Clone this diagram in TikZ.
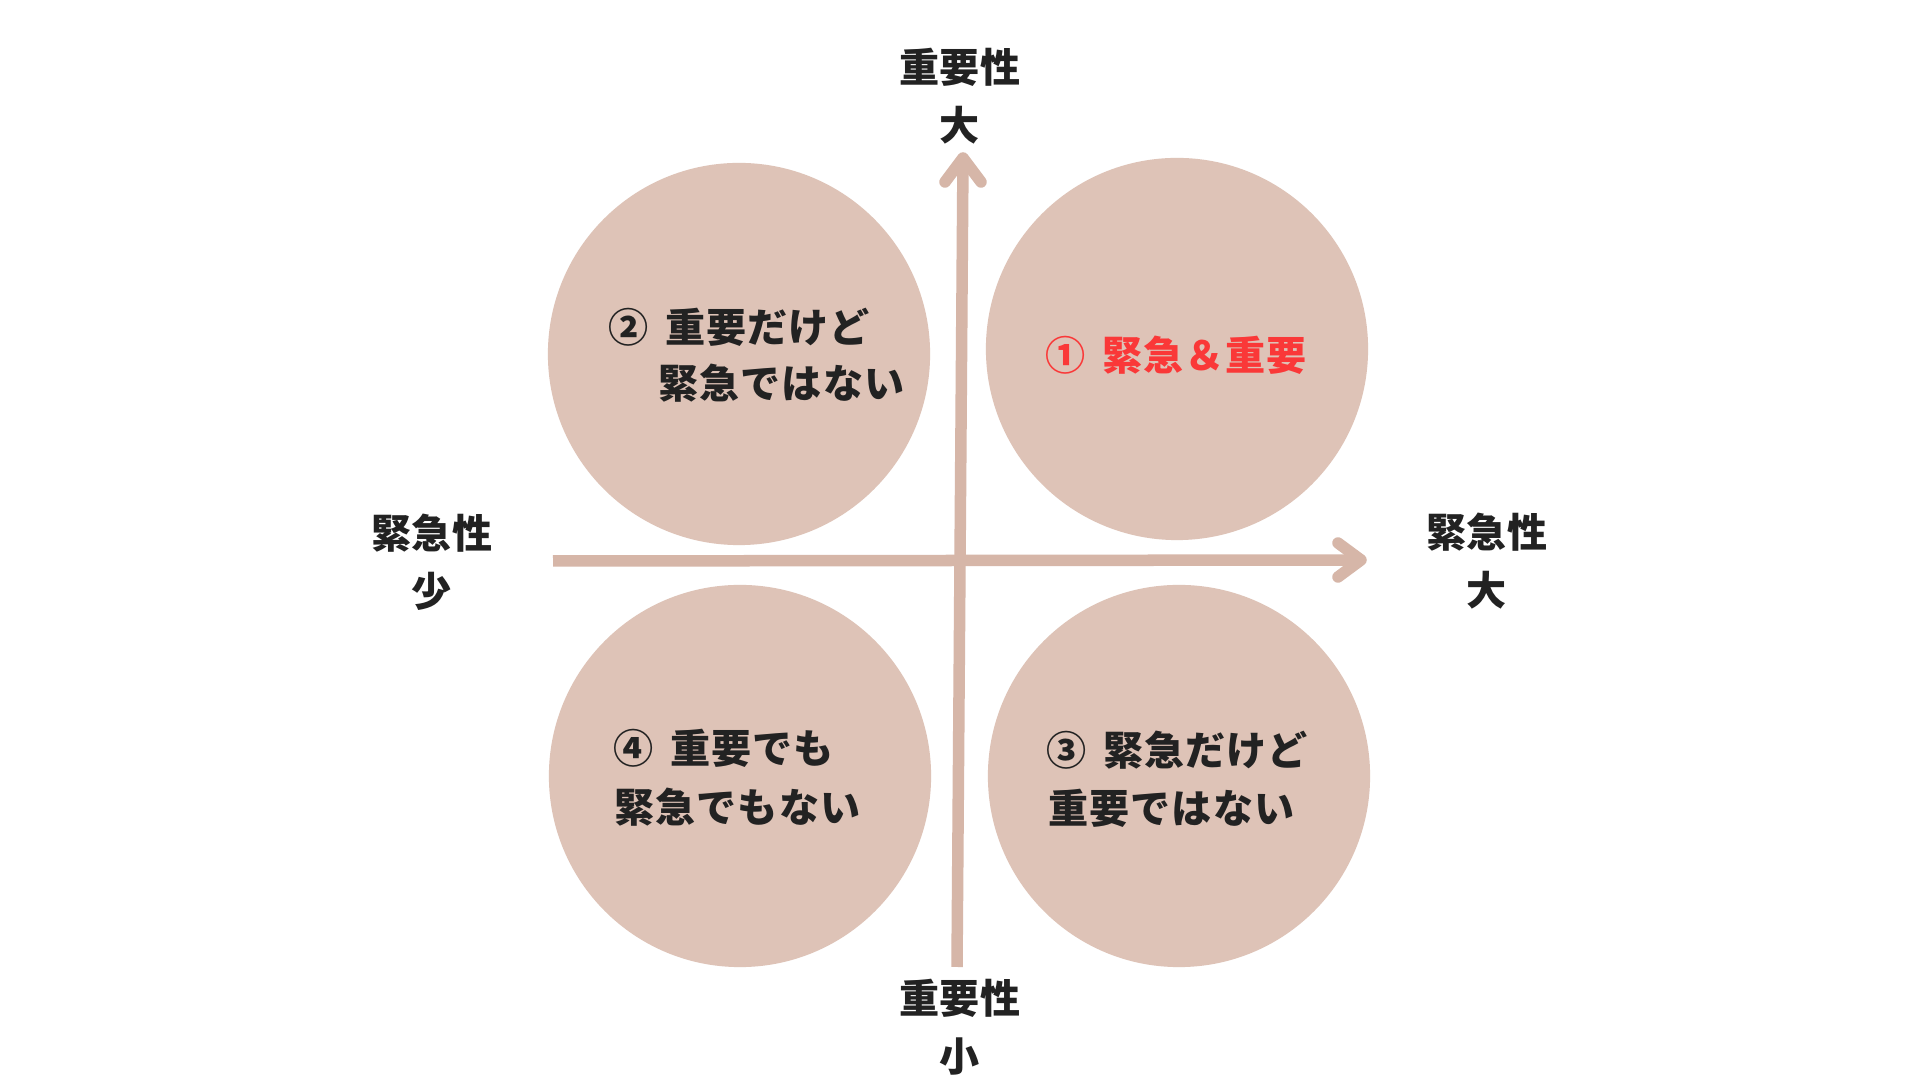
\documentclass[tikz,border=0pt]{standalone}
\usepackage{fontspec}
\setmainfont{Noto Sans CJK JP}
\newfontfamily\cfont{Noto Sans CJK JP}[LetterSpace=2.5,WordSpace=1.6]
\definecolor{disc}{RGB}{222,195,183}
\definecolor{axiscol}{RGB}{214,182,168}
\definecolor{ink}{RGB}{34,34,34}
\definecolor{alert}{RGB}{250,56,56}
\tikzset{
  disc/.style={circle,fill=disc,minimum size=3.82cm,inner sep=0pt},
  shaft/.style={draw=axiscol,line width=0.115cm,line cap=butt},
  head/.style={draw=axiscol,line width=0.115cm,line cap=round,line join=round},
  lbl/.style={text=ink,font=\fontsize{11.4pt}{16.5pt}\selectfont\bfseries,align=center,inner sep=0pt},
  ctext/.style={text=ink,font=\cfont\fontsize{11.4pt}{16pt}\selectfont\bfseries,anchor=west,inner sep=0pt},
}
\begin{document}
\begin{tikzpicture}[x=0.01cm,y=-0.01cm]
\useasboundingbox[fill=white] (0,0) rectangle (1920,1080);
% circles
\node[disc] (c2) at (739,354) {};
\node[disc] (c1) at (1177,349) {};
\node[disc] (c4) at (740,776) {};
\node[disc] (c3) at (1179,776) {};
% axes
\coordinate (hl) at (553,561);
\coordinate (hr) at (1361,560);
\coordinate (vb) at (957,967);
\coordinate (vt) at (963,158);
\draw[shaft] (hl) -- (hr);
\draw[shaft] (vb) -- (vt);
\draw[head] (hr) ++(-23,-17) -- (hr) -- ++(-23,17);
\draw[head] (vt) ++(-18,24) -- (vt) -- ++(18,24);
% axis labels
\node[lbl] (top) at (960,96) {重要性\\大};
\node[lbl] (bot) at (960,1027) {重要性\\小};
\node[lbl] (lft) at (432,562) {緊急性\\少};
\node[lbl] (rgt) at (1487,561) {緊急性\\大};
% circle texts
\node[ctext] (t2a) at (608,327) {② 重要だけど};
\node[ctext] (t2b) at (658,383) {緊急ではない};
\node[ctext,text=alert] (t1) at (1045,355) {① 緊急＆重要};
\node[ctext] (t4a) at (613,748) {④ 重要でも};
\node[ctext] (t4b) at (614,807) {緊急でもない};
\node[ctext] (t3a) at (1046,750) {③ 緊急だけど};
\node[ctext] (t3b) at (1048,808) {重要ではない};
\end{tikzpicture}
\end{document}
